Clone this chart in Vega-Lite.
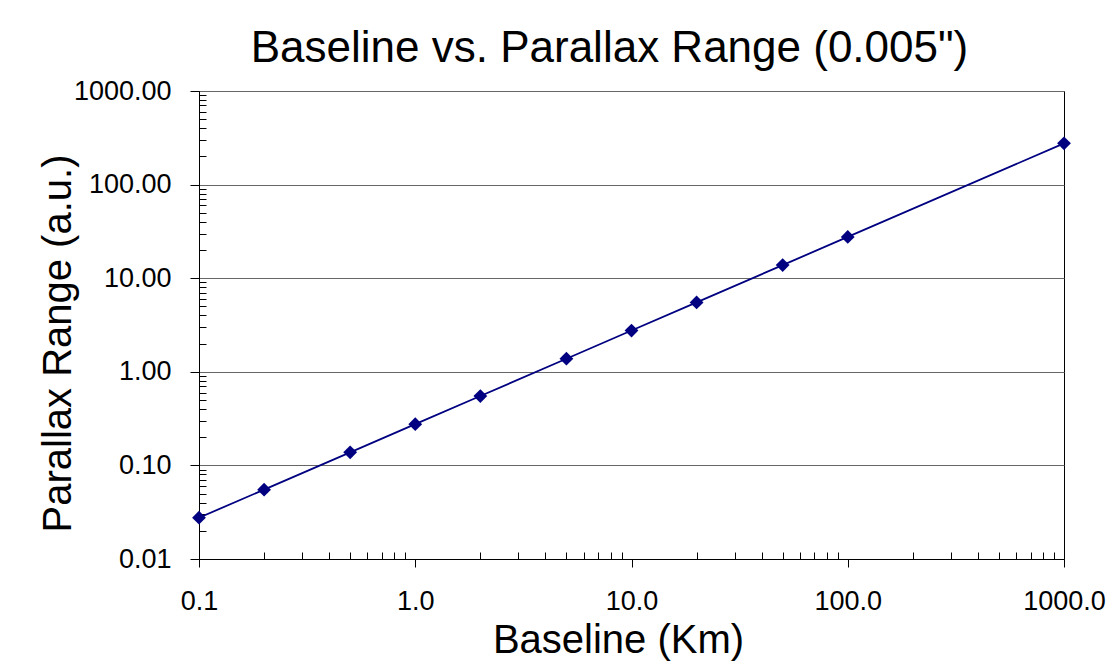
{
  "$schema": "https://vega.github.io/schema/vega-lite/v6.json",
  "width": 865,
  "height": 468,
  "autosize": "none",
  "padding": {"left": 199, "top": 91, "right": 50, "bottom": 111},
  "background": "white",
  "title": {
    "text": "Baseline vs. Parallax Range (0.005\")",
    "font": "Liberation Sans",
    "fontSize": 44,
    "fontWeight": "normal",
    "color": "black",
    "anchor": "middle",
    "dx": -22,
    "baseline": "alphabetic",
    "offset": -29
  },
  "config": {
    "view": {"stroke": "black", "strokeWidth": 1},
    "axis": {
      "labelFont": "Liberation Sans",
      "labelFontSize": 27,
      "labelColor": "black",
      "titleFont": "Liberation Sans",
      "titleFontSize": 40,
      "titleFontWeight": "normal",
      "titleColor": "black",
      "domainColor": "black",
      "tickColor": "black",
      "tickWidth": 1
    }
  },
  "data": {
    "values": [
      {"baseline": 0.1, "range": 0.0276},
      {"baseline": 0.2, "range": 0.0551},
      {"baseline": 0.5, "range": 0.138},
      {"baseline": 1, "range": 0.276},
      {"baseline": 2, "range": 0.551},
      {"baseline": 5, "range": 1.38},
      {"baseline": 10, "range": 2.76},
      {"baseline": 20, "range": 5.51},
      {"baseline": 50, "range": 13.8},
      {"baseline": 100, "range": 27.6},
      {"baseline": 1000, "range": 276}
    ]
  },
  "encoding": {
    "x": {
      "field": "baseline",
      "type": "quantitative",
      "scale": {"type": "log", "domain": [0.1, 1000], "nice": false},
      "axis": {
        "title": "Baseline (Km)",
        "values": [0.1,0.2,0.3,0.4,0.5,0.6,0.7,0.8,0.9,1,2,3,4,5,6,7,8,9,10,20,30,40,50,60,70,80,90,100,200,300,400,500,600,700,800,900,1000],
        "labelExpr": "abs(log(datum.value)/LN10 - round(log(datum.value)/LN10)) < 1e-6 ? format(datum.value, '.1f') : ''",
        "labelBaseline": "alphabetic",
        "labelPadding": 42,
        "labelFlush": false,
        "labelOverlap": false,
        "tickSize": {"condition": {"test": "abs(log(datum.value)/LN10 - round(log(datum.value)/LN10)) < 1e-6", "value": 8}, "value": -7},
        "grid": false,
        "titleX": 419,
        "titleY": 93,
        "titleBaseline": "alphabetic",
        "titleAlign": "center"
      }
    },
    "y": {
      "field": "range",
      "type": "quantitative",
      "scale": {"type": "log", "domain": [0.01, 1000], "nice": false},
      "axis": {
        "title": "Parallax Range (a.u.)",
        "values": [0.01,0.02,0.03,0.04,0.05,0.06,0.07,0.08,0.09,0.1,0.2,0.3,0.4,0.5,0.6,0.7,0.8,0.9,1,2,3,4,5,6,7,8,9,10,20,30,40,50,60,70,80,90,100,200,300,400,500,600,700,800,900,1000],
        "labelExpr": "abs(log(datum.value)/LN10 - round(log(datum.value)/LN10)) < 1e-6 ? format(datum.value, '.2f') : ''",
        "labelBaseline": "middle",
        "labelPadding": 19,
        "labelFlush": false,
        "labelOverlap": false,
        "tickSize": {"condition": {"test": "abs(log(datum.value)/LN10 - round(log(datum.value)/LN10)) < 1e-6", "value": 9}, "value": -7},
        "grid": true,
        "gridColor": "#666666",
        "gridWidth": 1,
        "gridOpacity": {"condition": {"test": "abs(log(datum.value)/LN10 - round(log(datum.value)/LN10)) < 1e-6", "value": 1}, "value": 0},
        "titleX": -129,
        "titleY": 252,
        "titleAngle": -90,
        "titleBaseline": "alphabetic",
        "titleAlign": "center"
      }
    }
  },
  "layer": [
    {"mark": {"type": "line", "color": "#000080", "strokeWidth": 1.8}},
    {"mark": {"type": "point", "shape": "diamond", "filled": true, "color": "#000080", "size": 190, "opacity": 1}}
  ]
}
